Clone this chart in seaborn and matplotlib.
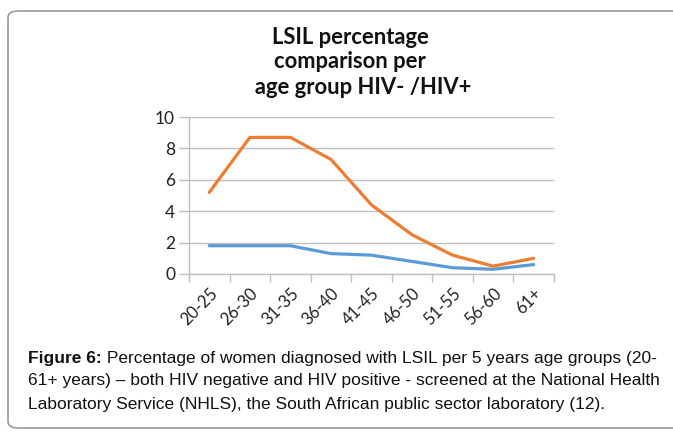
import pandas as pd
import matplotlib
matplotlib.use("Agg")
import matplotlib.pyplot as plt
from matplotlib.patches import FancyBboxPatch
import seaborn as sns

# Data
age_groups = ["20-25", "26-30", "31-35", "36-40", "41-45", "46-50", "51-55", "56-60", "61+"]
hiv_neg = [1.8, 1.8, 1.8, 1.3, 1.2, 0.8, 0.4, 0.3, 0.6]
hiv_pos = [5.2, 8.7, 8.7, 7.3, 4.4, 2.5, 1.2, 0.5, 1.0]
series_names = ["HIV-", "HIV+"]
y_ticks = [0, 2, 4, 6, 8, 10]

title_lines = ["LSIL percentage", "comparison per", "     age group HIV- /HIV+"]
caption_bold = "Figure 6:"
caption_lines = [
    " Percentage of women diagnosed with LSIL per 5 years age groups (20-",
    "61+ years) \u2013 both HIV negative and HIV positive - screened at the National Health",
    "Laboratory Service (NHLS), the South African public sector laboratory (12).",
]

df = pd.DataFrame({
    "age": age_groups * 2,
    "pct": hiv_neg + hiv_pos,
    "group": [series_names[0]] * len(age_groups) + [series_names[1]] * len(age_groups),
})

sns.set_theme(style="white")
plt.rcParams["font.family"] = ["Lato", "DejaVu Sans"]

W, H = 673, 432
fig = plt.figure(figsize=(W / 100, H / 100), dpi=100)
ax = fig.add_axes([189 / W, 1 - 274 / H, (554 - 189) / W, (274 - 117) / H])

sns.lineplot(data=df, x="age", y="pct", hue="group", sort=False,
             palette={"HIV-": "#5B9BD5", "HIV+": "#ED7D31"},
             linewidth=2.3, legend=False, ax=ax)

ax.set_xlim(-0.5, len(age_groups) - 0.5)
ax.set_ylim(0, 10)
ax.set_yticks(y_ticks)
ax.set_yticklabels([str(t) for t in y_ticks], fontsize=12.5, color="#222222")
ax.set_xlabel("")
ax.set_ylabel("")

# horizontal gridlines that poke out to the left of the axis like Excel
for t in y_ticks:
    ax.axhline(t, color="#bfbfbf", lw=1, zorder=0)
ax.tick_params(axis="y", length=7, width=1, color="#bfbfbf", pad=3, left=True)

ax.set_xticks(range(len(age_groups)))
ax.set_xticklabels(age_groups, rotation=45, ha="right", rotation_mode="anchor",
                   fontsize=12, color="#222222")
ax.tick_params(axis="x", which="major", length=0, pad=8)
ax.set_xticks([i - 0.5 for i in range(len(age_groups) + 1)], minor=True)
ax.tick_params(axis="x", which="minor", length=6, width=1, color="#bfbfbf", bottom=True)

for side in ["top", "right"]:
    ax.spines[side].set_visible(False)
ax.spines["left"].set_color("#bfbfbf")
ax.spines["bottom"].set_color("#bfbfbf")
ax.spines["left"].set_linewidth(1)
ax.spines["bottom"].set_linewidth(1)

# title, one line at a time so the leading spaces on the last line are kept
for y, line in zip([37, 62, 88], title_lines):
    fig.text(350 / W, 1 - y / H, line.replace(" ", "\u00a0"), ha="center", va="center",
             fontsize=15.8, fontweight="bold", color="#111111")

# caption with bold prefix
renderer = fig.canvas.get_renderer()
x0 = 28 / W
cap_y = [358, 381, 404]
cap_fs = 12.55
t_bold = fig.text(x0, 1 - cap_y[0] / H, caption_bold, fontsize=cap_fs, fontweight="bold",
                  family=["Liberation Sans"], va="center", color="#111111")
bb = t_bold.get_window_extent(renderer=renderer)
fig.text(bb.x1 / W, 1 - cap_y[0] / H, caption_lines[0], fontsize=cap_fs,
         family=["Liberation Sans"], va="center", color="#111111")
for y, line in zip(cap_y[1:], caption_lines[1:]):
    fig.text(x0, 1 - y / H, line, fontsize=cap_fs, family=["Liberation Sans"],
             va="center", color="#111111")

# rounded frame around the figure
box = FancyBboxPatch((8 / W, 4 / H), 700 / W, (428 - 11) / H,
                     boxstyle="round,pad=0,rounding_size=0.015",
                     transform=fig.transFigure, fill=False,
                     edgecolor="#9a9a9a", lw=1.2)
fig.patches.append(box)

fig.savefig("out.png", dpi=100)
